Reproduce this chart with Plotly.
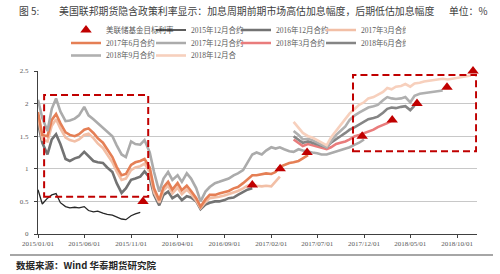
import pandas as pd
import plotly.graph_objects as go

# ---------------- data ----------------
# semi-monthly observation dates (1st and 15th of each month)
dates = pd.date_range("2015-01-01", "2018-11-15", freq="SMS").strftime("%Y-%m-%d").tolist()

fed_dates = ["2015-12-10", "2016-12-01", "2017-03-02", "2017-05-29", "2017-11-25",
             "2018-03-03", "2018-05-23", "2018-08-29", "2018-11-22"]
fed_rate = [0.50, 0.75, 1.00, 1.25, 1.50, 1.75, 2.00, 2.25, 2.50]

c2015_12_start = "2015-01-01"
c2015_12 = [0.68, 0.46, 0.55, 0.60, 0.62, 0.48, 0.42, 0.40, 0.41, 0.40, 0.42, 0.36, 0.34, 0.35,
            0.32, 0.30, 0.29, 0.26, 0.23, 0.22, 0.28, 0.31, 0.33]

c2016_12_start = "2015-01-01"
c2016_12 = [1.70, 1.40, 1.22, 1.45, 1.53, 1.38, 1.15, 1.12, 1.16, 1.18, 1.26, 1.20, 1.12, 1.10,
            1.09, 1.02, 0.95, 0.78, 0.63, 0.70, 0.83, 0.85, 0.88, 0.96,
            0.86, 0.60, 0.44, 0.60, 0.65, 0.55, 0.60, 0.52, 0.58, 0.56, 0.50, 0.38, 0.45, 0.48,
            0.50, 0.50, 0.52, 0.55, 0.56, 0.60, 0.65, 0.68, 0.70]

c2017_3_start = "2015-01-01"
c2017_3 = [1.80, 1.45, 1.42, 1.66, 1.76, 1.62, 1.48, 1.44, 1.42, 1.45, 1.52, 1.54, 1.47, 1.39,
           1.32, 1.22, 1.10, 0.96, 0.83, 0.85, 0.98, 1.02, 1.04, 1.08,
           0.95, 0.64, 0.48, 0.67, 0.74, 0.62, 0.71, 0.61, 0.68, 0.61, 0.51, 0.40, 0.49, 0.55,
           0.56, 0.57, 0.59, 0.61, 0.64, 0.66, 0.70, 0.74, 0.76, 0.74,
           0.73, 0.74, 0.73, 0.80, 0.88]

c2017_6_start = "2015-01-01"
c2017_6 = [1.87, 1.52, 1.50, 1.75, 1.84, 1.70, 1.56, 1.52, 1.50, 1.53, 1.60, 1.62, 1.55, 1.47,
           1.40, 1.30, 1.18, 1.03, 0.90, 0.92, 1.06, 1.10, 1.12, 1.15,
           1.02, 0.70, 0.52, 0.72, 0.80, 0.68, 0.78, 0.67, 0.74, 0.66, 0.55, 0.42, 0.53, 0.60,
           0.60, 0.62, 0.64, 0.66, 0.70, 0.72, 0.78, 0.83, 0.90, 0.90,
           0.92, 0.93, 0.92, 0.95, 1.03, 1.06, 1.09, 1.10, 1.12, 1.16, 1.21]

c2017_12_start = "2015-01-01"
c2017_12 = [2.06, 1.78, 1.58, 1.92, 2.08, 1.88, 1.73, 1.74, 1.77, 1.82, 1.95, 1.82, 1.76, 1.70,
            1.64, 1.58, 1.50, 1.36, 1.22, 1.18, 1.42, 1.38, 1.37, 1.44,
            1.25, 0.95, 0.65, 0.85, 0.95, 0.83, 0.90, 0.80, 0.93, 0.85, 0.70, 0.50, 0.65, 0.72,
            0.78, 0.80, 0.83, 0.85, 0.90, 0.93, 0.98, 1.10, 1.22, 1.25,
            1.22, 1.28, 1.33, 1.31, 1.33, 1.30, 1.27, 1.26, 1.30, 1.28, 1.27, 1.25, 1.24, 1.22,
            1.22, 1.24, 1.26, 1.28, 1.31, 1.33, 1.37, 1.40, 1.45]

c2018_3_start = "2017-04-15"
c2018_3 = [1.45, 1.40, 1.35, 1.38, 1.36, 1.34, 1.32, 1.30, 1.33, 1.38, 1.40, 1.42, 1.45, 1.50,
           1.52, 1.55, 1.58, 1.60, 1.64, 1.67, 1.70, 1.74]

c2018_6_start = "2017-04-15"
c2018_6 = [1.50, 1.45, 1.40, 1.42, 1.40, 1.38, 1.36, 1.33, 1.40, 1.46, 1.50, 1.55, 1.60, 1.64,
           1.68, 1.72, 1.76, 1.78, 1.80, 1.86, 1.92, 1.94, 1.93, 1.95, 1.96, 1.90, 1.97]

c2018_9_start = "2017-04-15"
c2018_9 = [1.58, 1.52, 1.45, 1.46, 1.44, 1.40, 1.37, 1.33, 1.42, 1.52, 1.58, 1.65, 1.75, 1.82,
           1.86, 1.90, 1.94, 1.96, 1.98, 2.05, 2.10, 2.08, 2.07, 2.08, 2.10, 2.02, 2.12, 2.15,
           2.16, 2.17, 2.17, 2.19, 2.20]

c2018_12_start = "2017-04-15"
c2018_12 = [1.72, 1.62, 1.55, 1.50, 1.48, 1.44, 1.40, 1.36, 1.48, 1.58, 1.66, 1.75, 1.85, 1.92,
            1.98, 2.02, 2.08, 2.10, 2.14, 2.18, 2.24, 2.22, 2.26, 2.27, 2.30, 2.26, 2.31, 2.32,
            2.34, 2.35, 2.36, 2.37, 2.38, 2.37, 2.38, 2.39, 2.40, 2.41, 2.43]

x_ticks = ["2015-01-01", "2015-06-01", "2015-11-01", "2016-04-01", "2016-09-01",
           "2017-02-01", "2017-07-01", "2017-12-01", "2018-05-01", "2018-10-01"]
y_ticks = [0, 0.5, 1, 1.5, 2, 2.5]

# highlighted periods (dashed boxes): x0, x1, y0, y1
highlight_boxes = [("2015-01-21", "2015-12-27", 0.57, 2.13),
                   ("2017-10-26", "2018-12-02", 1.27, 2.44)]

# ---------------- styling ----------------
W, H = 500, 274
ML, MR, MT, MB = 38, 23, 71, 40
PW, PH = W - ML - MR, H - MT - MB
SERIF = "Liberation Serif, Noto Sans CJK SC"
CJK = "Noto Sans CJK SC"


def pxx(px):
    return (px - ML) / PW


def pxy(py):
    return (H - MB - py) / PH


series = [
    ("2015年12月合约", c2015_12_start, c2015_12, "#262626", 1.3, "legend"),
    ("2016年12月合约", c2016_12_start, c2016_12, "#737373", 2.6, "legend"),
    ("2017年3月合约", c2017_3_start, c2017_3, "#F2BFA6", 2.6, "legend"),
    ("2017年6月合约", c2017_6_start, c2017_6, "#E57F55", 2.6, "legend2"),
    ("2017年12月合约", c2017_12_start, c2017_12, "#ABABAB", 2.6, "legend2"),
    ("2018年3月合约", c2018_3_start, c2018_3, "#E97C7C", 2.6, "legend2"),
    ("2018年6月合约", c2018_6_start, c2018_6, "#858585", 2.6, "legend2"),
    ("2018年9月合约", c2018_9_start, c2018_9, "#B0B0B0", 2.6, "legend3"),
    ("2018年12月合约", c2018_12_start, c2018_12, "#F7D0BD", 2.6, "legend3"),
]

fig = go.Figure()
for rank, (name, start, vals, color, width, leg) in enumerate(series, start=2):
    i0 = dates.index(start)
    fig.add_trace(go.Scatter(
        x=dates[i0:i0 + len(vals)], y=vals, mode="lines", name=name,
        line=dict(color=color, width=width), legend=leg, legendrank=rank))

# Fed target rate markers, drawn on top, listed first in the legend
fig.add_trace(go.Scatter(
    x=fed_dates, y=fed_rate, mode="markers", name="美联储基金目标利率",
    marker=dict(symbol="triangle-up", size=10, color="#C00000"),
    cliponaxis=False, legend="legend", legendrank=1))

for x0, x1, y0, y1 in highlight_boxes:
    fig.add_shape(type="rect", xref="x", yref="y", x0=x0, x1=x1, y0=y0, y1=y1,
                  line=dict(color="#C00000", width=2, dash="7px,4px"), layer="above")

# bottom separator line
fig.add_shape(type="line", xref="paper", yref="paper", x0=pxx(10), x1=pxx(493),
              y0=pxy(255), y1=pxy(255), line=dict(color="#A6A6A6", width=2))

ann = [
    ("图 5:", 17, 11, 9.8, "#404040"),
    ("美国联邦期货隐含政策利率显示：加息周期前期市场高估加息幅度，后期低估加息幅度", 57, 11, 9.9, "#404040"),
    ("单位：%", 447, 11, 9.8, "#404040"),
]
for text, px, py, size, color in ann:
    fig.add_annotation(text=text, xref="paper", yref="paper", x=pxx(px), y=pxy(py),
                       xanchor="left", yanchor="middle", showarrow=False,
                       font=dict(family=CJK, size=size, color=color))
fig.add_annotation(text="<b>数据来源：Wind 华泰期货研究院</b>", xref="paper", yref="paper",
                   x=pxx(14), y=pxy(265), xanchor="left", yanchor="middle", showarrow=False,
                   font=dict(family=CJK, size=9.5, color="#262626"))

LEG_X = 66


def leg(row_py):
    return dict(orientation="h", xref="container", yref="container",
                x=LEG_X / W, y=1 - row_py / H, xanchor="left", yanchor="middle",
                entrywidth=40, entrywidthmode="pixels", itemwidth=30,
                font=dict(size=7.5, color="#595959", family=SERIF),
                bgcolor="rgba(0,0,0,0)", traceorder="normal")


fig.update_layout(
    width=W, height=H, margin=dict(l=ML, r=MR, t=MT, b=MB, autoexpand=False),
    paper_bgcolor="white", plot_bgcolor="white",
    showlegend=True,
    legend=leg(30), legend2=leg(43), legend3=leg(55.5),
    xaxis=dict(type="date", range=["2015-01-01", "2018-12-05"],
               tickvals=x_ticks, tickformat="%Y/%m/%d",
               tickfont=dict(family=SERIF, size=7, color="#595959"),
               showline=True, linecolor="#404040", linewidth=1,
               ticks="outside", ticklen=3, tickcolor="#404040",
               showgrid=False, zeroline=False),
    yaxis=dict(range=[0, 2.5], tickvals=y_ticks, ticktext=["0", "0.5", "1", "1.5", "2", "2.5"],
               tickfont=dict(family=SERIF, size=7, color="#595959"),
               showline=True, linecolor="#404040", linewidth=1,
               ticks="outside", ticklen=3, tickcolor="#404040", ticklabelstandoff=4,
               showgrid=True, gridcolor="#C8C8C8", gridwidth=1, zeroline=False),
)

fig.write_html("out.html")
